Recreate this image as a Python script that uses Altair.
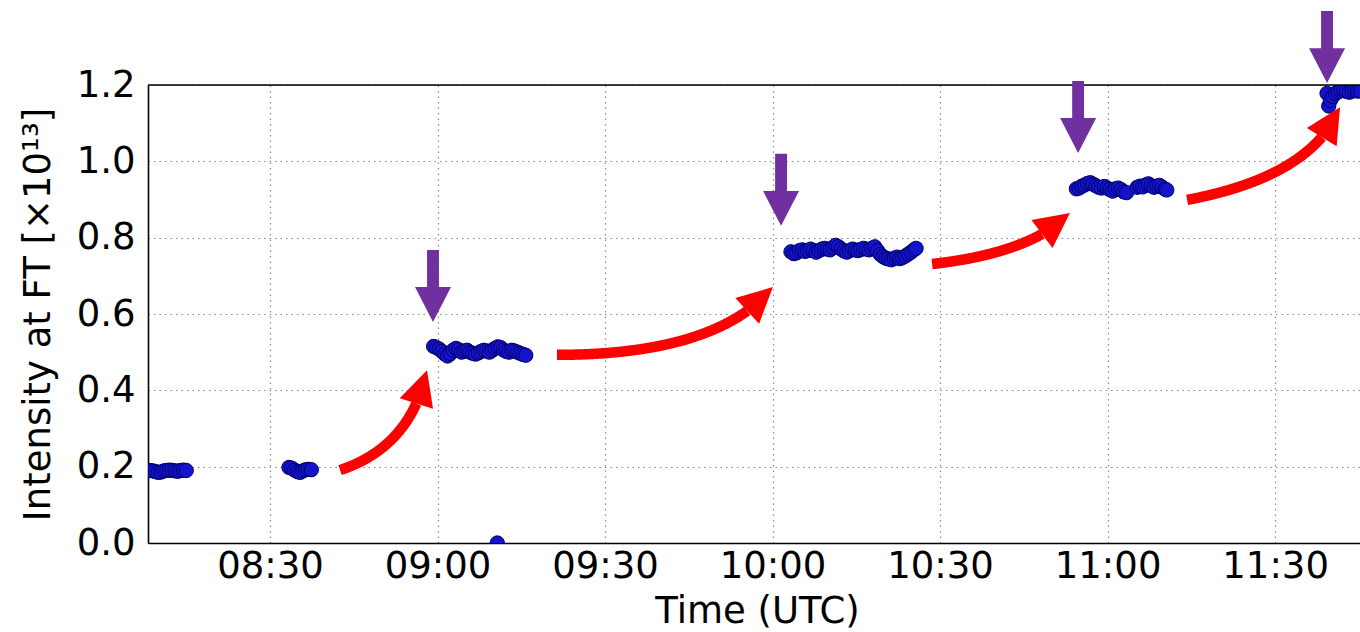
import math
import numpy as np
import pandas as pd
import altair as alt

# ---------------- data (time in minutes after 08:00 UTC, intensity in 1e13) -------------
c1_t = [8.0, 8.5, 9.0, 9.5, 10.0, 10.5, 11.0, 11.5, 12.0, 12.5, 13.0, 13.5, 14.0, 14.5, 15.0]
c1_v = [0.191, 0.190, 0.189, 0.187, 0.185, 0.186, 0.189, 0.190, 0.191, 0.190, 0.189, 0.188,
        0.190, 0.191, 0.190]

c2_t = [33.4, 33.9, 34.4, 34.9, 35.4, 35.9, 36.4, 36.9, 37.4]
c2_v = [0.198, 0.196, 0.191, 0.187, 0.185, 0.189, 0.192, 0.193, 0.192]

c0_t = [70.7]
c0_v = [0.0]

c3_t = [59.3, 59.8, 60.3, 60.8, 61.3, 61.8, 62.3, 62.8, 63.3, 63.8, 64.3, 64.8, 65.3, 65.8,
        66.3, 66.8, 67.3, 67.8, 68.3, 68.8, 69.3, 69.8, 70.3, 70.8, 71.3, 71.8, 72.3, 72.8,
        73.3, 73.8, 74.3, 74.8, 75.3, 75.8]
c3_v = [0.515, 0.512, 0.508, 0.502, 0.495, 0.490, 0.496, 0.505, 0.510, 0.506, 0.500, 0.503,
        0.505, 0.500, 0.497, 0.495, 0.498, 0.502, 0.505, 0.503, 0.500, 0.505, 0.510, 0.514,
        0.512, 0.506, 0.502, 0.500, 0.505, 0.503, 0.500, 0.497, 0.494, 0.492]

c4_t = [123.3, 123.8, 124.3, 124.8, 125.3, 125.8, 126.3, 126.8, 127.3, 127.8, 128.3, 128.8,
        129.3, 129.8, 130.3, 130.8, 131.3, 131.8, 132.3, 132.8, 133.3, 133.8, 134.3, 134.8,
        135.3, 135.8, 136.3, 136.8, 137.3, 137.8, 138.3, 138.8, 139.3, 139.8, 140.3, 140.8,
        141.3, 141.8, 142.3, 142.8, 143.3, 143.8, 144.3, 144.8, 145.3, 145.7]
c4_v = [0.763, 0.758, 0.760, 0.766, 0.768, 0.764, 0.766, 0.770, 0.766, 0.762, 0.766, 0.770,
        0.772, 0.770, 0.768, 0.774, 0.780, 0.776, 0.770, 0.765, 0.762, 0.766, 0.770, 0.768,
        0.766, 0.769, 0.772, 0.770, 0.768, 0.772, 0.776, 0.766, 0.756, 0.750, 0.746, 0.744,
        0.742, 0.746, 0.749, 0.745, 0.748, 0.752, 0.757, 0.762, 0.768, 0.772]

c5_t = [174.4, 174.9, 175.4, 175.9, 176.4, 176.9, 177.4, 177.9, 178.4, 178.9, 179.4, 179.9,
        180.4, 180.9, 181.4, 181.9, 182.4, 182.9, 183.4,
        185.3, 185.8, 186.3, 186.8, 187.3, 187.8, 188.3, 188.8, 189.3, 189.8, 190.3, 190.6]
c5_v = [0.928, 0.930, 0.935, 0.938, 0.942, 0.944, 0.940, 0.936, 0.932, 0.930, 0.934, 0.930,
        0.926, 0.922, 0.928, 0.930, 0.926, 0.920, 0.918,
        0.932, 0.935, 0.933, 0.938, 0.941, 0.936, 0.932, 0.935, 0.937, 0.932, 0.927, 0.925]

c6_t = [219.3, 219.6, 219.9, 220.3, 220.8, 221.3, 221.8, 222.3, 222.8, 223.3, 223.8, 224.3,
        224.8, 225.3]
c6_v = [1.178, 1.145, 1.160, 1.170, 1.178, 1.182, 1.185, 1.186, 1.183, 1.181, 1.184, 1.186,
        1.184, 1.185]

# red curved arrows: start, control, tip (data units)
arr_start_t = [42.54, 81.40, 148.57, 194.24]
arr_start_v = [0.191, 0.493, 0.731, 0.899]
arr_ctrl_t = [55.29, 110.06, 166.39, 216.72]
arr_ctrl_v = [0.253, 0.493, 0.760, 0.961]
arr_tip_t = [58.12, 120.09, 173.28, 221.64]
arr_tip_v = [0.453, 0.671, 0.865, 1.142]

# purple markers (tip positions)
mark_t = [59.19, 121.52, 174.72, 219.3]
mark_v = [0.579, 0.831, 1.022, 1.205]

x_tick_values = [30, 60, 90, 120, 150, 180, 210]
x_tick_labels = ["08:30", "09:00", "09:30", "10:00", "10:30", "11:00", "11:30"]
y_tick_values = [0.0, 0.2, 0.4, 0.6, 0.8, 1.0, 1.2]

# ---------------- layout ----------------
XMIN, XMAX = 8.15, 225.2
YMIN, YMAX = 0.0, 1.2
W, H = 1212, 458
FONT = "DejaVu Sans"
FS = 37
HEAD_LEN = 35.0

all_t = c1_t + c2_t + c0_t + c3_t + c4_t + c5_t + c6_t
all_v = c1_v + c2_v + c0_v + c3_v + c4_v + c5_v + c6_v
pts = pd.DataFrame({"t": all_t, "v": all_v})

# build arrow shafts (quadratic bezier) and heads
PXM = W / (XMAX - XMIN)
PXV = H / (YMAX - YMIN)
line_rows = []
head_rows = []
for i in range(len(arr_start_t)):
    A = np.array([arr_start_t[i] * PXM, -arr_start_v[i] * PXV])
    C = np.array([arr_ctrl_t[i] * PXM, -arr_ctrl_v[i] * PXV])
    B = np.array([arr_tip_t[i] * PXM, -arr_tip_v[i] * PXV])
    u = np.linspace(0, 1, 400)[:, None]
    curve = (1 - u) ** 2 * A + 2 * (1 - u) * u * C + u ** 2 * B
    d = np.hypot(curve[:, 0] - B[0], curve[:, 1] - B[1])
    keep = curve[d >= HEAD_LEN]
    base = keep[-1]
    ang = math.degrees(math.atan2(B[0] - base[0], -(B[1] - base[1]))) % 360
    for k, p in enumerate(keep):
        line_rows.append({"id": i, "k": k, "t": p[0] / PXM, "v": -p[1] / PXV})
    head_rows.append({"t": base[0] / PXM, "v": -base[1] / PXV, "ang": ang})
lines = pd.DataFrame(line_rows)
heads = pd.DataFrame(head_rows)
marks = pd.DataFrame({"t": mark_t, "v": mark_v})

label_expr = "[" + ",".join("'%s'" % s for s in x_tick_labels) + "][indexof([" + \
    ",".join(str(v) for v in x_tick_values) + "], datum.value)]"

xenc = alt.X("t:Q", scale=alt.Scale(domain=[XMIN, XMAX], nice=False, zero=False),
             axis=alt.Axis(values=x_tick_values, labelExpr=label_expr, title="Time (UTC)",
                           grid=True, gridDash=[1.5, 4], gridColor="#8a8a8a", gridWidth=1.2,
                           ticks=False, domainColor="black", domainWidth=1.6,
                           labelFontSize=FS, labelFont=FONT, labelColor="black",
                           labelPadding=34, labelBaseline="alphabetic",
                           titleFontSize=FS, titleFont=FONT, titleFontWeight="normal",
                           titleColor="black", titleX=609, titleY=79,
                           titleBaseline="alphabetic", titleAlign="center"))
yenc = alt.Y("v:Q", scale=alt.Scale(domain=[YMIN, YMAX], nice=False, zero=False),
             axis=alt.Axis(values=y_tick_values, format=".1f",
                           title="Intensity at FT [×10¹³]",
                           grid=True, gridDash=[1.5, 4], gridColor="#8a8a8a", gridWidth=1.2,
                           ticks=False, domainColor="black", domainWidth=1.6,
                           labelFontSize=FS, labelFont=FONT, labelColor="black",
                           labelPadding=13,
                           titleFontSize=FS, titleFont=FONT, titleFontWeight="normal",
                           titleColor="black", titleAngle=270, titleX=-99, titleY=229,
                           titleBaseline="alphabetic", titleAlign="center"))

points = alt.Chart(pts).mark_circle(size=205, color="#1414cc", stroke="#00006a",
                                    strokeWidth=1.0, opacity=1, clip=True).encode(x=xenc, y=yenc)

top_border = alt.Chart(pd.DataFrame({"v": [YMAX]})).mark_rule(
    color="black", strokeWidth=1.6).encode(y=alt.Y("v:Q"))

shafts = alt.Chart(lines).mark_line(color="#ff0000", strokeWidth=10.5, strokeCap="butt").encode(
    x="t:Q", y="v:Q", detail="id:N", order="k:Q")

heads_c = alt.Chart(heads).mark_point(
    shape="M0,-1L-0.5,0L0.5,0Z", filled=True, color="#ff0000", opacity=1,
    size=HEAD_LEN * HEAD_LEN * 4, strokeWidth=0).encode(
    x="t:Q", y="v:Q", angle=alt.Angle("ang:Q", scale=None))

purple = alt.Chart(marks).mark_point(
    shape="M0,0L-0.5,-0.97L-0.165,-0.97L-0.165,-2L0.165,-2L0.165,-0.97L0.5,-0.97Z",
    filled=True, color="#7030a0", opacity=1, size=36 * 36 * 4, strokeWidth=0).encode(
    x="t:Q", y="v:Q")

chart = alt.layer(points, top_border, shafts, heads_c, purple).properties(
    width=W, height=H,
    autosize=alt.AutoSizeParams(type="none"),
    padding={"left": 148, "top": 85, "right": 0, "bottom": 89},
).configure_view(stroke=None).configure(font=FONT)

chart.save("out.html", embed_options={"renderer": "svg", "actions": False})
